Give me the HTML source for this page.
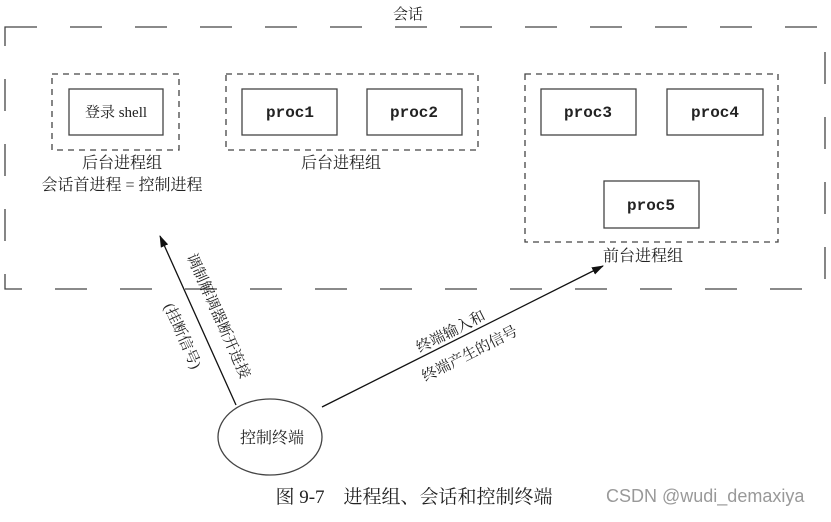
<!DOCTYPE html>
<html><head><meta charset="utf-8"><style>
body{margin:0;background:#fff;width:831px;height:517px;overflow:hidden}
svg text{font-family:"Liberation Serif","Noto Serif CJK SC","Noto Sans CJK SC",serif;fill:#222}
.m{font-family:"Liberation Mono",monospace !important;font-weight:bold}
</style></head><body>
<svg width="831" height="517" viewBox="0 0 831 517" xmlns="http://www.w3.org/2000/svg">
<defs><marker id="a" markerWidth="12" markerHeight="8" refX="11" refY="4" orient="auto" markerUnits="userSpaceOnUse"><path d="M0,0 L12,4 L0,8 z" fill="#111"/></marker></defs>
<g fill="none" stroke="#444" stroke-width="1.3">
<rect x="5" y="27" width="820" height="262" stroke-dasharray="32 33"/>
<rect x="52" y="74" width="127" height="76" stroke-dasharray="6 5"/>
<rect x="226" y="74" width="252" height="76" stroke-dasharray="6 5"/>
<rect x="525" y="74" width="253" height="168" stroke-dasharray="6 5"/>
<rect x="69" y="89" width="94" height="46"/>
<rect x="242" y="89" width="95" height="46"/>
<rect x="367" y="89" width="95" height="46"/>
<rect x="541" y="89" width="95" height="46"/>
<rect x="667" y="89" width="96" height="46"/>
<rect x="604" y="181" width="95" height="47"/>
<ellipse cx="270" cy="437" rx="52" ry="38"/>
<line x1="236" y1="405" x2="160" y2="236" stroke="#111" marker-end="url(#a)"/>
<line x1="322" y1="407" x2="603" y2="266" stroke="#111" marker-end="url(#a)"/>
</g>
<g font-size="16" text-anchor="middle">
<text x="408" y="19" font-size="15">会话</text>
<text x="116" y="117" font-size="15">登录 shell</text>
<text x="290" y="117" class="m">proc1</text>
<text x="414" y="117" class="m">proc2</text>
<text x="588" y="117" class="m">proc3</text>
<text x="715" y="117" class="m">proc4</text>
<text x="651" y="210" class="m">proc5</text>
<text x="122" y="168">后台进程组</text>
<text x="122" y="190">会话首进程 = 控制进程</text>
<text x="341" y="168">后台进程组</text>
<text x="643" y="261">前台进程组</text>
<text x="272" y="443">控制终端</text>
<text transform="translate(214,318) rotate(66)" font-size="15">调制解调器断开连接</text>
<text transform="translate(178,338) rotate(66)" font-size="15">(挂断信号)</text>
<text transform="translate(453,336) rotate(-27)" font-size="15">终端输入和</text>
<text transform="translate(472,358) rotate(-27)" font-size="15">终端产生的信号</text>
<text x="414" y="503" font-size="19">图 9-7　进程组、会话和控制终端</text>
</g>
<text x="606" y="502" font-size="18" style="font-family:'Liberation Sans',sans-serif;fill:#999">CSDN @wudi_demaxiya</text>
</svg>
</body></html>
